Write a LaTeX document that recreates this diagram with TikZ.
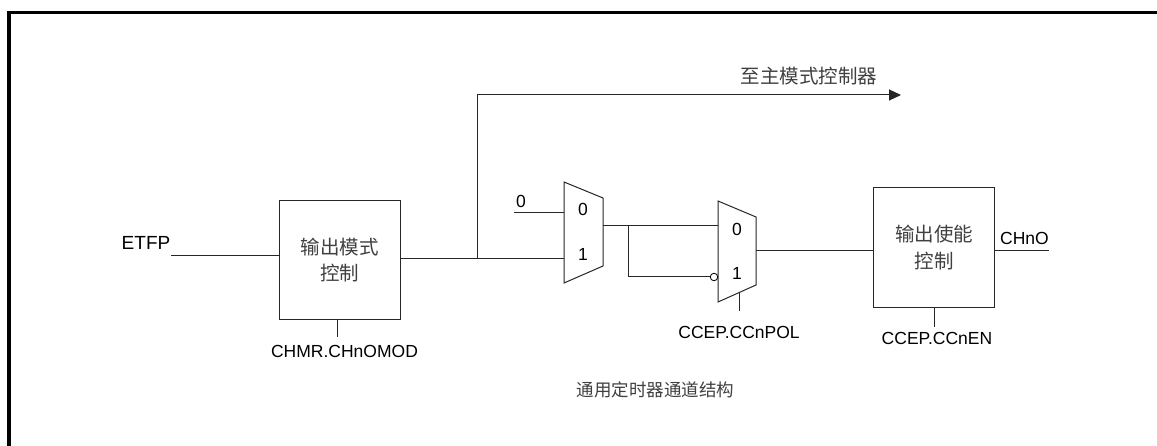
\documentclass[tikz,border=0pt]{standalone}
\usepackage{fontspec}
\setmainfont{Liberation Sans}
\newfontfamily\cjk{Noto Sans CJK SC}
\usetikzlibrary{arrows.meta}
\tikzset{
  wire/.style={draw=black!85,line width=1pt},
  blockbox/.style={draw=black!85,line width=1pt,fill=white,inner sep=0pt,align=center,text=black!75,font=\cjk\fontsize{19.5}{26.5}\selectfont},
  lab/.style={inner sep=0pt,font=\fontsize{17.5}{20}\selectfont},
  cjklab/.style={inner sep=0pt,text=black!75,font=\cjk\fontsize{19.5}{22}\selectfont},
  muxshape/.style={draw=black!85,line width=1pt,fill=white},
  inv/.style={circle,draw=black,line width=0.8pt,fill=white,inner sep=0pt,minimum size=7.5pt},
}
\begin{document}
\begin{tikzpicture}[x=1pt,y=-1pt]
\useasboundingbox (0,0) rectangle (1157,446);
\fill[white] (0,0) rectangle (1157,446);
% outer frame
\draw[black,line width=3.5pt] (9,446) -- (9,12.5) -- (1157,12.5);
% blocks
\node[blockbox,minimum width=120.5pt,minimum height=119.5pt] (ctl) at (339.75,260.25) {输出模式\\控制};
\node[blockbox,minimum width=121pt,minimum height=119.5pt] (en) at (934,247.75) {输出使能\\控制};
% multiplexers
\coordinate (m1a) at (564,182); \coordinate (m1b) at (603,198);
\coordinate (m1c) at (603,266); \coordinate (m1d) at (564,283);
\coordinate (m2a) at (718,201); \coordinate (m2b) at (756,217);
\coordinate (m2c) at (756,285); \coordinate (m2d) at (718,302);
\draw[muxshape] (m1a) -- (m1b) -- (m1c) -- (m1d) -- cycle;
\draw[muxshape] (m2a) -- (m2b) -- (m2c) -- (m2d) -- cycle;
\node[lab] (m1z) at (583,209) {0};
\node[lab] (m1o) at (583,254) {1};
\node[lab] (m2z) at (737,229) {0};
\node[lab] (m2o) at (737,273) {1};
% free-end coordinates
\coordinate (in0) at (514,213); \coordinate (in0e) at (564,213);
\coordinate (etf) at (171,256);
\coordinate (ctlo) at (400,259); \coordinate (m1i) at (564,259);
\coordinate (bra) at (477,259); \coordinate (brb) at (477,95); \coordinate (bre) at (901,95);
\coordinate (m1out) at (603,226); \coordinate (m2i) at (718,226);
\coordinate (sp) at (628,226); \coordinate (spb) at (628,277);
\coordinate (m2out) at (756,251);
\coordinate (enin) at (873.5,251); \coordinate (enout) at (994.5,251); \coordinate (chn) at (1049,251);
\coordinate (c1a) at (337,320); \coordinate (c1b) at (337,337);
\coordinate (c2a) at (739,293); \coordinate (c2b) at (739,311);
\coordinate (c3a) at (934,307.5); \coordinate (c3b) at (934,327);
% inverter bubble
\node[inv] (bub) at (714,277) {};
% wires
\draw[wire] (etf) -- (ctl.west |- etf);
\draw[wire] (ctlo) -- (m1i);
\draw[wire,-{Stealth[length=12pt,width=11pt,inset=0pt]}] (bra) -- (brb) -- (bre);
\draw[wire] (in0) -- (in0e);
\draw[wire] (m1out) -- (m2i);
\draw[wire] (sp) -- (spb) -- (bub.west);
\draw[wire] (m2out) -- (enin);
\draw[wire] (enout) -- (chn);
\draw[wire] (c1a) -- (c1b);
\draw[wire] (c2a) -- (c2b);
\draw[wire] (c3a) -- (c3b);
% labels
\node[lab,font=\fontsize{19}{22}\selectfont] (letfp) at (146,243) {ETFP};
\node[lab] (lzero) at (521,201) {0};
\node[lab] (lchmr) at (344.5,351) {CHMR.CHnOMOD};
\node[lab] (lpol) at (739,332) {CCEP.CCnPOL};
\node[lab] (len) at (937,338) {CCEP.CCnEN};
\node[lab] (lchn) at (1024.5,238) {CHnO};
\node[cjklab] (lmaster) at (809,76) {至主模式控制器};
\node[inner sep=0pt,text=black!75,font=\cjk\fontsize{17.5}{20}\selectfont] (lcap) at (655.5,390) {通用定时器通道结构};
\end{tikzpicture}
\end{document}
